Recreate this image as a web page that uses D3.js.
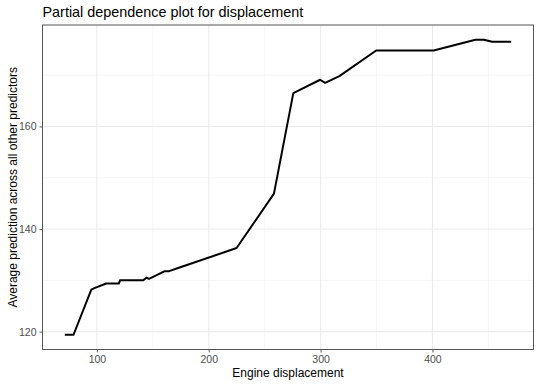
<!DOCTYPE html>
<html>
<head>
<meta charset="utf-8">
<script src="https://cdn.jsdelivr.net/npm/d3@7"></script>
<style>
  body { margin: 0; background: #fff; }
  text { font-family: "Liberation Sans", Arial, sans-serif; }
</style>
</head>
<body>
<div class="graph"></div>
<script>
// displacement values and average prediction
let displacement = [71.3, 79.1, 95, 97.7, 108.4, 119.7, 120.6, 141.2, 144.3, 146.6, 160.7, 164.5, 172.6,
  224.9, 258.3, 275.6, 299.6, 304, 316.8, 349.7, 401.1, 438.4, 445.9, 453.4, 470.4];
let prediction = [119.4, 119.4, 128.2, 128.5, 129.4, 129.4, 130.0, 130.0, 130.5, 130.3, 131.8, 131.8, 132.4,
  136.3, 146.9, 166.5, 169.1, 168.5, 169.8, 174.8, 174.8, 176.9, 176.9, 176.5, 176.5];
let xTicks = [100, 200, 300, 400];
let xMinor = [150, 250, 350, 450];
let yTicks = [120, 140, 160];
let yMinor = [130, 150, 170];

let width = 540;
let height = 386;
let pLeft = 42.5, pRight = 533.5, pTop = 25, pBottom = 349.5;

let svg = d3.select('.graph')
    .append('svg')
    .attr('width', width)
    .attr('height', height);

// ggplot style 5% expansion
let xe = d3.extent(displacement);
let ye = d3.extent(prediction);
let dx = (xe[1] - xe[0]) * 0.05;
let dy = (ye[1] - ye[0]) * 0.05;

let x = d3.scaleLinear().domain([xe[0] - dx, xe[1] + dx]).range([pLeft, pRight]);
let y = d3.scaleLinear().domain([ye[0] - dy, ye[1] + dy]).range([pBottom, pTop]);

// gridlines
svg.selectAll('.xminor').data(xMinor).enter().append('line')
    .attr('x1', d => x(d)).attr('x2', d => x(d))
    .attr('y1', pTop).attr('y2', pBottom)
    .attr('stroke', '#f0f0f0').attr('stroke-width', 0.6);
svg.selectAll('.yminor').data(yMinor).enter().append('line')
    .attr('y1', d => y(d)).attr('y2', d => y(d))
    .attr('x1', pLeft).attr('x2', pRight)
    .attr('stroke', '#f0f0f0').attr('stroke-width', 0.6);
svg.selectAll('.xmajor').data(xTicks).enter().append('line')
    .attr('x1', d => x(d)).attr('x2', d => x(d))
    .attr('y1', pTop).attr('y2', pBottom)
    .attr('stroke', '#ebebeb').attr('stroke-width', 1.1);
svg.selectAll('.ymajor').data(yTicks).enter().append('line')
    .attr('y1', d => y(d)).attr('y2', d => y(d))
    .attr('x1', pLeft).attr('x2', pRight)
    .attr('stroke', '#ebebeb').attr('stroke-width', 1.1);

// the curve
let line = d3.line()
    .x((d, i) => x(displacement[i]))
    .y(d => y(d));
svg.append('path')
    .attr('d', line(prediction))
    .style('fill', 'none')
    .attr('stroke', '#000')
    .style('stroke-width', 2)
    .style('stroke-linejoin', 'round');

// panel border
svg.append('rect')
    .attr('x', pLeft).attr('y', pTop)
    .attr('width', pRight - pLeft).attr('height', pBottom - pTop)
    .attr('fill', 'none').attr('stroke', '#555').attr('stroke-width', 1);

// axes
let xAxis = svg.append('g')
    .attr('transform', 'translate(0,' + pBottom + ')')
    .call(d3.axisBottom(x).tickValues(xTicks).tickSize(3).tickPadding(3));
let yAxis = svg.append('g')
    .attr('transform', 'translate(' + pLeft + ',0)')
    .call(d3.axisLeft(y).tickValues(yTicks).tickSize(3).tickPadding(3));
[xAxis, yAxis].forEach(function (a) {
    a.select('.domain').remove();
    a.selectAll('line').attr('stroke', '#555');
    a.selectAll('text').attr('fill', '#4d4d4d').style('font-size', '10.5px')
        .style('font-family', '"Liberation Sans", Arial, sans-serif');
});

// titles
svg.append('text')
    .attr('x', pLeft).attr('y', 17)
    .style('font-size', '14.4px')
    .attr('fill', '#000')
    .text('Partial dependence plot for displacement');
svg.append('text')
    .attr('x', (pLeft + pRight) / 2).attr('y', 377)
    .attr('text-anchor', 'middle')
    .style('font-size', '12px')
    .text('Engine displacement');
svg.append('text')
    .attr('transform', 'translate(17,' + (pTop + pBottom) / 2 + ') rotate(-90)')
    .attr('text-anchor', 'middle')
    .style('font-size', '12px')
    .text('Average prediction across all other predictors');
</script>
</body>
</html>
